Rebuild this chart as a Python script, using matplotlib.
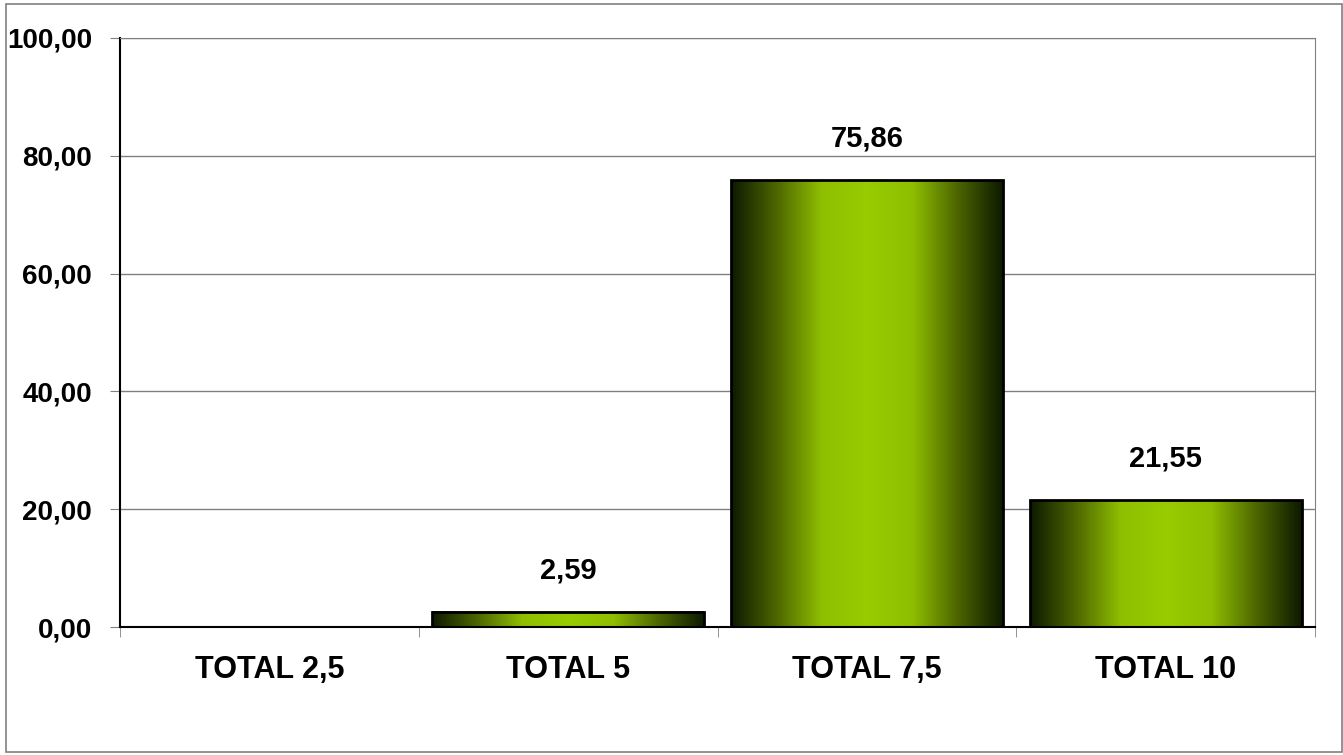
import numpy as np
import matplotlib.pyplot as plt
from matplotlib.colors import LinearSegmentedColormap
from matplotlib.patches import Rectangle

# data
categories = ['TOTAL 2,5', 'TOTAL 5', 'TOTAL 7,5', 'TOTAL 10']
values = [0.0, 2.59, 75.86, 21.55]
yticks = [0, 20, 40, 60, 80, 100]

plt.rcParams['font.family'] = ['Liberation Sans', 'DejaVu Sans']

fig = plt.figure(figsize=(13.43, 7.55), dpi=100)
fig.patches.append(Rectangle((0.0045, 0.004), 0.9945, 0.991, transform=fig.transFigure,
                             fill=False, edgecolor='#808080', linewidth=1.2))
ax = fig.add_axes([120/1343, 1 - 627/755, (1315-120)/1343, (627-38)/755])

# horizontal gradient: dark edges, green centre
cmap = LinearSegmentedColormap.from_list('g', ['#0d1a00', '#4d6600', '#8fbf00', '#99cc00',
                                                 '#8fbf00', '#4d6600', '#0d1a00'])
grad = np.linspace(0, 1, 256).reshape(1, -1)

x = np.arange(len(categories))
w = 0.91
for xi, v in zip(x, values):
    if v > 0:
        ax.imshow(grad, cmap=cmap, extent=[xi - w/2, xi + w/2, 0, v], aspect='auto', zorder=2)
    ax.add_patch(Rectangle((xi - w/2, 0), w, v, fill=False, edgecolor='black', linewidth=2, zorder=3))
    if v > 0:
        ax.annotate(f'{v:.2f}'.replace('.', ','), (xi, v), xytext=(0, 30), textcoords='offset points',
                    ha='center', va='center', fontsize=21, fontweight='bold')

ax.set_xlim(-0.5, len(categories) - 0.5)
ax.set_ylim(0, 100)
ax.set_yticks(yticks)
ax.set_yticklabels([f'{t:.2f}'.replace('.', ',') for t in yticks], fontsize=20, fontweight='bold')
ax.set_xticks(x)
ax.set_xticklabels(categories, fontsize=22, fontweight='bold')
ax.tick_params(axis='x', length=0, pad=20)
ax.set_xticks(np.arange(len(categories) + 1) - 0.5, minor=True)
ax.tick_params(axis='x', which='minor', length=7, color='#808080')
ax.tick_params(axis='y', length=7, color='#808080', pad=13)

ax.yaxis.grid(True, color='#808080', linewidth=1)
ax.set_axisbelow(True)
for s in ['top', 'right']:
    ax.spines[s].set_color('#808080')
for s in ['left', 'bottom']:
    ax.spines[s].set_color('black')
    ax.spines[s].set_linewidth(1.5)

fig.savefig('out.png', dpi=100)
